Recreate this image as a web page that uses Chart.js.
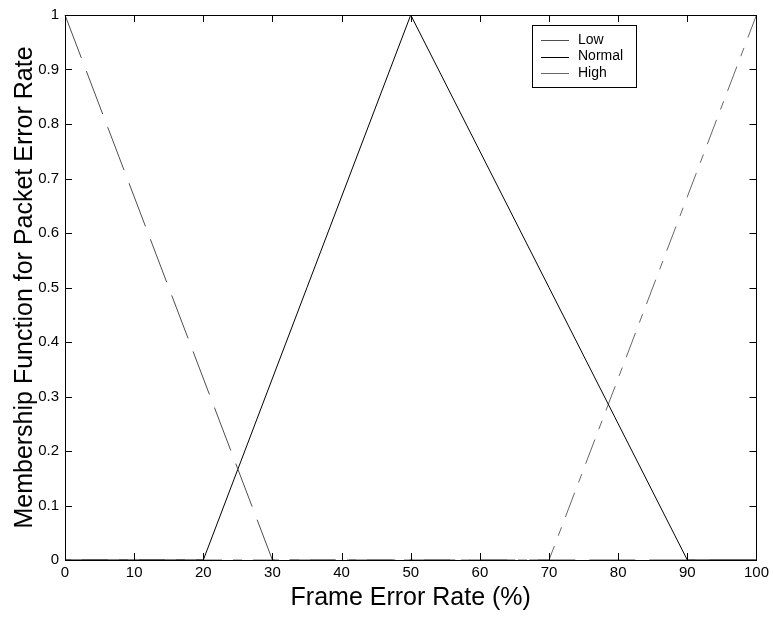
<!DOCTYPE html>
<html>
<head>
<meta charset="utf-8">
<script src="https://cdn.jsdelivr.net/npm/chart.js@4"></script>
<style>
    html, body { margin: 0; padding: 0; background: #fff; }
    #chart { display: block; }
</style>
</head>
<body>
<canvas id="chart" width="773" height="618"></canvas>
<script>
// membership functions
const lowX = [0, 30, 100];
const lowY = [1, 0, 0];
const normalX = [0, 20, 50, 90, 100];
const normalY = [0, 0, 1, 0, 0];
const highX = [0, 70, 100];
const highY = [0, 0, 1];

const seriesNames = ['Low', 'Normal', 'High'];
const xTitle = 'Frame Error Rate (%)';
const yTitle = 'Membership Function for Packet Error Rate';

const FONT = "'Liberation Sans', Arial, sans-serif";

function toPoints(xs, ys) {
    return xs.map((x, i) => ({ x: x, y: ys[i] }));
}

// box, inward ticks on all four sides, and the boxed legend
const matlabFrame = {
    id: 'matlabFrame',
    afterDatasetsDraw(chart) {
        const ctx = chart.ctx;
        const area = chart.chartArea;
        const xs = chart.scales.x;
        const ys = chart.scales.y;
        const tl = 7;

        ctx.save();
        ctx.strokeStyle = '#000';
        ctx.lineWidth = 1;
        ctx.setLineDash([]);
        ctx.strokeRect(Math.round(area.left) + 0.5, Math.round(area.top) + 0.5,
            Math.round(area.right - area.left), Math.round(area.bottom - area.top));

        ctx.beginPath();
        xs.ticks.forEach(t => {
            const px = Math.round(xs.getPixelForValue(t.value)) + 0.5;
            ctx.moveTo(px, area.bottom);
            ctx.lineTo(px, area.bottom - tl);
            ctx.moveTo(px, area.top);
            ctx.lineTo(px, area.top + tl);
        });
        ys.ticks.forEach(t => {
            const py = Math.round(ys.getPixelForValue(t.value)) + 0.5;
            ctx.moveTo(area.left, py);
            ctx.lineTo(area.left + tl, py);
            ctx.moveTo(area.right, py);
            ctx.lineTo(area.right - tl, py);
        });
        ctx.stroke();

        // legend
        const lx = 532, ly = 25, lw = 104, lh = 62;
        ctx.fillStyle = '#fff';
        ctx.fillRect(lx, ly, lw, lh);
        ctx.strokeRect(lx + 0.5, ly + 0.5, lw, lh);
        ctx.font = '14px ' + FONT;
        ctx.textBaseline = 'middle';
        ctx.textAlign = 'left';
        chart.data.datasets.forEach((ds, i) => {
            const y = ly + 15 + i * 16.5;
            ctx.beginPath();
            ctx.strokeStyle = ds.borderColor;
            ctx.setLineDash([]);
            ctx.moveTo(541, Math.round(y) + 0.5);
            ctx.lineTo(569, Math.round(y) + 0.5);
            ctx.stroke();
            ctx.fillStyle = '#000';
            ctx.fillText(ds.label, 578, y);
        });
        ctx.restore();
    }
};

const ctx = document.getElementById('chart').getContext('2d');

new Chart(ctx, {
    type: 'line',
    data: {
        datasets: [
            {
                label: seriesNames[0],
                data: toPoints(lowX, lowY),
                borderColor: '#4d4d4d',
                borderWidth: 1,
                borderDash: [46, 14],
                pointRadius: 0,
                tension: 0
            },
            {
                label: seriesNames[1],
                data: toPoints(normalX, normalY),
                borderColor: '#000000',
                borderWidth: 1,
                pointRadius: 0,
                tension: 0
            },
            {
                label: seriesNames[2],
                data: toPoints(highX, highY),
                borderColor: '#666666',
                borderWidth: 1,
                borderDash: [26, 11, 9, 11],
                borderDashOffset: 40,
                pointRadius: 0,
                tension: 0
            }
        ]
    },
    options: {
        responsive: false,
        animation: false,
        devicePixelRatio: 1,
        clip: false,
        layout: { padding: { top: 13, right: 16, left: 0, bottom: 0 } },
        plugins: {
            legend: { display: false },
            tooltip: { enabled: false }
        },
        scales: {
            x: {
                type: 'linear',
                min: 0,
                max: 100,
                afterFit: s => { s.height = 58; },
                grid: { display: false, drawTicks: false },
                border: { display: false },
                ticks: {
                    stepSize: 10,
                    color: '#000',
                    padding: 4,
                    maxRotation: 0,
                    font: { family: FONT, size: 15 }
                },
                title: {
                    display: true,
                    text: xTitle,
                    color: '#000',
                    padding: { top: 0, bottom: 5 },
                    font: { family: FONT, size: 25 }
                }
            },
            y: {
                type: 'linear',
                min: 0,
                max: 1,
                afterFit: s => { s.width = 65; },
                grid: { display: false, drawTicks: false },
                border: { display: false },
                ticks: {
                    stepSize: 0.1,
                    color: '#000',
                    padding: 6,
                    font: { family: FONT, size: 15 },
                    callback: v => String(Number(v.toFixed(1)))
                },
                title: {
                    display: true,
                    text: yTitle,
                    color: '#000',
                    padding: { top: 10, bottom: 0 },
                    font: { family: FONT, size: 25 }
                }
            }
        }
    },
    plugins: [matlabFrame]
});
</script>
</body>
</html>
